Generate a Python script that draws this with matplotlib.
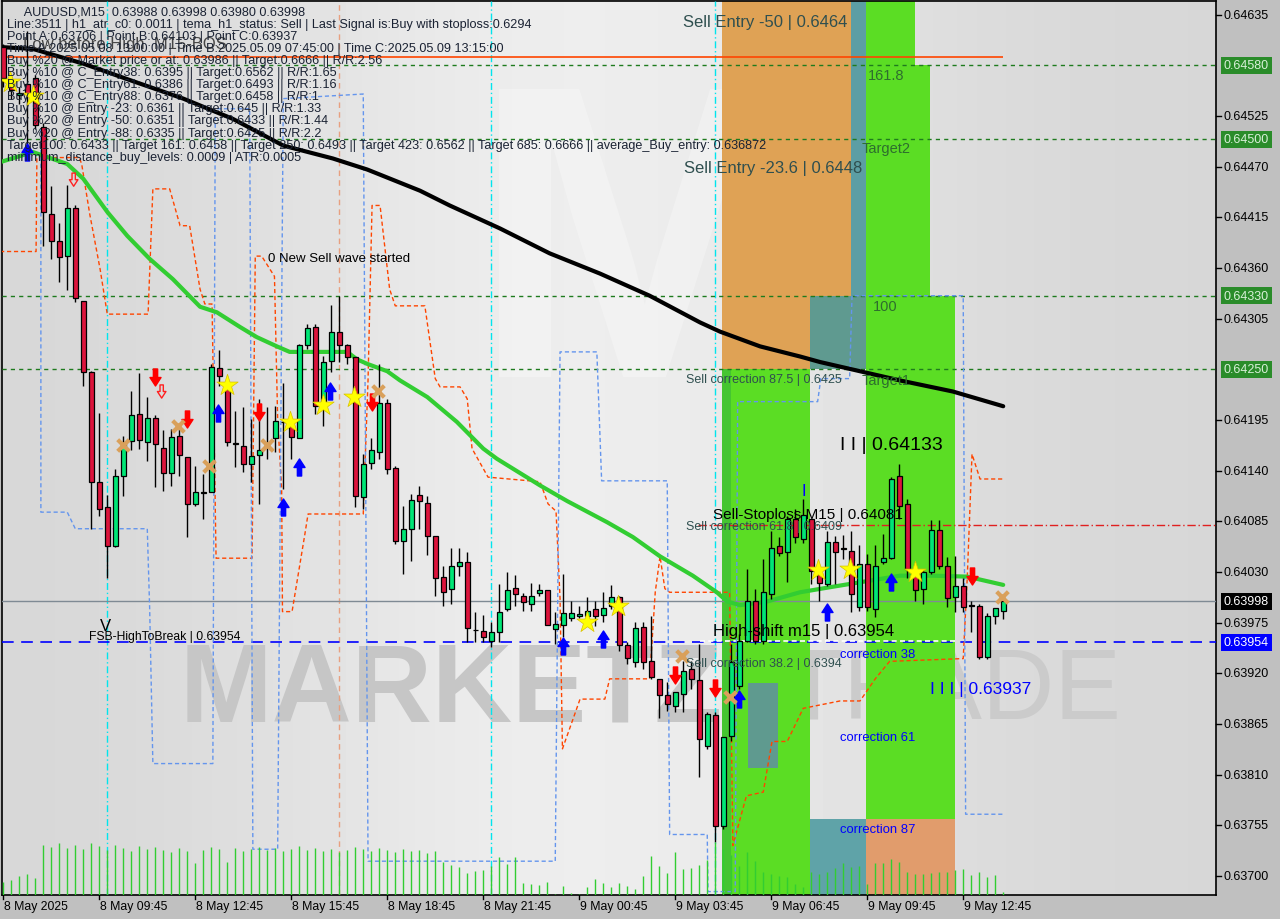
import numpy as np
import matplotlib.pyplot as plt
from matplotlib.patches import Rectangle
from matplotlib.path import Path
from matplotlib.transforms import blended_transform_factory

plt.rcParams['font.family'] = ['Liberation Sans', 'DejaVu Sans']

# ---- AUDUSD M15 candles (bar 0 = 8 May 06:45) ----
opens = [0.64600, 0.64563, 0.64548, 0.64560, 0.64566, 0.64513, 0.64419, 0.64389, 0.64373, 0.64425,
         0.64324, 0.64247, 0.64128, 0.64101, 0.64058, 0.64134, 0.64172, 0.64202, 0.64171, 0.64197,
         0.64165, 0.64138, 0.64178, 0.64155, 0.64104, 0.64116, 0.64117, 0.64252, 0.64229, 0.64169,
         0.64167, 0.64147, 0.64157, 0.64169, 0.64175, 0.64193, 0.64189, 0.64176, 0.64277, 0.64296,
         0.64210, 0.64259, 0.64291, 0.64276, 0.64263, 0.64111, 0.64148, 0.64160, 0.64213, 0.64143,
         0.64064, 0.64077, 0.64114, 0.64105, 0.64069, 0.64025, 0.64012, 0.64036, 0.64041, 0.63967,
         0.63966, 0.63955, 0.63965, 0.63990, 0.64013, 0.64004, 0.63995, 0.64007, 0.64010, 0.63968,
         0.63973, 0.63980, 0.63982, 0.63982, 0.63990, 0.63983, 0.63993, 0.64003, 0.63951, 0.63932,
         0.63970, 0.63933, 0.63914, 0.63896, 0.63885, 0.63898, 0.63925, 0.63913, 0.63841, 0.63875,
         0.63754, 0.63852, 0.63906, 0.63955, 0.63998, 0.63955, 0.64006, 0.64058, 0.64052, 0.64088,
         0.64066, 0.64088, 0.64028, 0.64017, 0.64063, 0.64055, 0.64053, 0.63992, 0.64039, 0.63990,
         0.64041, 0.64045, 0.64134, 0.64104, 0.64028, 0.64012, 0.64030, 0.64076, 0.64037, 0.64003,
         0.64015, 0.63994, 0.63993, 0.63938, 0.63982, 0.63988]
highs = [0.64603, 0.64568, 0.64557, 0.64617, 0.64570, 0.64517, 0.64449, 0.64409, 0.64450, 0.64429,
         0.64324, 0.64248, 0.64203, 0.64114, 0.64142, 0.64178, 0.64226, 0.64246, 0.64220, 0.64200,
         0.64184, 0.64185, 0.64188, 0.64155, 0.64145, 0.64136, 0.64256, 0.64271, 0.64232, 0.64205,
         0.64209, 0.64196, 0.64218, 0.64209, 0.64210, 0.64235, 0.64193, 0.64278, 0.64299, 0.64299,
         0.64265, 0.64320, 0.64330, 0.64278, 0.64264, 0.64158, 0.64175, 0.64256, 0.64218, 0.64145,
         0.64102, 0.64115, 0.64123, 0.64112, 0.64069, 0.64037, 0.64056, 0.64056, 0.64052, 0.63987,
         0.63983, 0.63976, 0.64017, 0.64030, 0.64027, 0.64007, 0.64018, 0.64017, 0.64011, 0.63987,
         0.64028, 0.63999, 0.63993, 0.64003, 0.63998, 0.64008, 0.64016, 0.64004, 0.63954, 0.63976,
         0.63976, 0.63982, 0.63914, 0.63911, 0.63892, 0.63933, 0.63933, 0.63952, 0.63878, 0.63878,
         0.63851, 0.63952, 0.63963, 0.64033, 0.64012, 0.64044, 0.64075, 0.64068, 0.64091, 0.64098,
         0.64109, 0.64088, 0.64031, 0.64075, 0.64069, 0.64070, 0.64074, 0.64059, 0.64050, 0.64059,
         0.64071, 0.64133, 0.64147, 0.64109, 0.64037, 0.64033, 0.64086, 0.64086, 0.64046, 0.64047,
         0.64023, 0.63998, 0.63995, 0.63985, 0.63988, 0.64003]
lows = [0.64557, 0.64544, 0.64538, 0.64495, 0.64511, 0.64384, 0.64370, 0.64345, 0.64336, 0.64323,
        0.64232, 0.64077, 0.64091, 0.64023, 0.64057, 0.64112, 0.64162, 0.64164, 0.64151, 0.64122,
        0.64118, 0.64123, 0.64134, 0.64068, 0.64102, 0.64088, 0.64117, 0.64232, 0.64167, 0.64144,
        0.64139, 0.64128, 0.64104, 0.64153, 0.64160, 0.64120, 0.64153, 0.64175, 0.64272, 0.64202,
        0.64188, 0.64247, 0.64258, 0.64256, 0.64101, 0.64098, 0.64142, 0.64153, 0.64136, 0.64060,
        0.64028, 0.64042, 0.64077, 0.64048, 0.64004, 0.63993, 0.63995, 0.64026, 0.63954, 0.63954,
        0.63954, 0.63949, 0.63954, 0.63988, 0.63993, 0.63988, 0.63988, 0.64004, 0.63973, 0.63952,
        0.63959, 0.63977, 0.63980, 0.63979, 0.63971, 0.63976, 0.63990, 0.63944, 0.63930, 0.63927,
        0.63925, 0.63914, 0.63871, 0.63879, 0.63878, 0.63878, 0.63903, 0.63807, 0.63838, 0.63737,
        0.63751, 0.63847, 0.63903, 0.63954, 0.63952, 0.63952, 0.64001, 0.64047, 0.64019, 0.64061,
        0.64061, 0.64017, 0.63998, 0.64015, 0.64017, 0.64044, 0.63987, 0.63988, 0.63988, 0.63981,
        0.64039, 0.64044, 0.64088, 0.64023, 0.63998, 0.63995, 0.64028, 0.64033, 0.63992, 0.63987,
        0.63987, 0.63965, 0.63936, 0.63936, 0.63974, 0.63979]
closes = [0.64566, 0.64553, 0.64550, 0.64549, 0.64515, 0.64421, 0.64389, 0.64372, 0.64425, 0.64327,
          0.64247, 0.64128, 0.64098, 0.64058, 0.64134, 0.64171, 0.64201, 0.64173, 0.64197, 0.64169,
          0.64138, 0.64177, 0.64157, 0.64104, 0.64117, 0.64117, 0.64253, 0.64243, 0.64171, 0.64170,
          0.64147, 0.64156, 0.64162, 0.64170, 0.64194, 0.64193, 0.64177, 0.64276, 0.64295, 0.64210,
          0.64258, 0.64291, 0.64276, 0.64264, 0.64112, 0.64147, 0.64162, 0.64213, 0.64142, 0.64064,
          0.64077, 0.64108, 0.64107, 0.64069, 0.64023, 0.64008, 0.64037, 0.64041, 0.63969, 0.63967,
          0.63959, 0.63965, 0.63987, 0.64011, 0.64006, 0.63997, 0.64004, 0.64010, 0.63973, 0.63974,
          0.63986, 0.63986, 0.63984, 0.63988, 0.63982, 0.63991, 0.64003, 0.63951, 0.63937, 0.63969,
          0.63932, 0.63916, 0.63896, 0.63887, 0.63900, 0.63923, 0.63914, 0.63849, 0.63876, 0.63754,
          0.63851, 0.63932, 0.63955, 0.63998, 0.63955, 0.64008, 0.64056, 0.64051, 0.64088, 0.64068,
          0.64092, 0.64031, 0.64018, 0.64063, 0.64052, 0.64056, 0.64006, 0.64039, 0.63992, 0.64037,
          0.64045, 0.64131, 0.64102, 0.64033, 0.64010, 0.64030, 0.64076, 0.64037, 0.64002, 0.64015,
          0.63992, 0.63993, 0.63938, 0.63982, 0.63991, 0.63998]
volumes = [13, 15, 19, 21, 17, 50, 48, 52, 47, 50, 46, 52, 49, 45, 50, 47, 44, 49, 46, 48,
           45, 43, 47, 44, 32, 45, 48, 46, 33, 47, 44, 46, 48, 45, 47, 44, 46, 49, 45, 47,
           44, 46, 43, 45, 48, 46, 44, 47, 45, 43, 46, 44, 45, 42, 44, 33, 30, 28, 22, 24,
           25, 29, 38, 31, 38, 12, 11, 10, 13, 1, 9, 2, 1, 8, 16, 12, 8, 12, 9, 6,
           19, 39, 29, 22, 43, 26, 27, 30, 35, 53, 46, 40, 29, 43, 34, 23, 21, 19, 18, 11,
           8, 23, 21, 23, 27, 32, 28, 29, 11, 32, 32, 36, 33, 23, 21, 21, 22, 23, 23, 25,
           26, 20, 23, 18, 20, 3]

# moving averages (bar index, price)
ma_fast_idx = [-0.4, 3.7, 8.0, 10.0, 13.0, 15.5, 18.3, 21.2, 24.6, 26.7, 29.6, 31.7, 34.2, 35.8,
               41.2, 43.0, 44.2, 45.5, 48.0, 49.6, 53.0, 56.7, 60.0, 61.7, 67.1, 70.5, 75.5,
               78.7, 82.1, 86.2, 89.2, 90.5, 92.1, 95.5, 99.6, 103.7, 110.0, 112.1, 116.2,
               120.5, 122.5, 125.0]
ma_fast_val = [0.64475, 0.64486, 0.64473, 0.64457, 0.64421, 0.64395, 0.64370, 0.64348, 0.64318,
               0.64312, 0.64296, 0.64285, 0.64275, 0.64269, 0.64269, 0.64269, 0.64261, 0.64256,
               0.64248, 0.64238, 0.64220, 0.64193, 0.64164, 0.64153, 0.64124, 0.64107, 0.64084,
               0.64068, 0.64047, 0.64026, 0.64008, 0.63998, 0.63994, 0.63998, 0.64008, 0.64014,
               0.64023, 0.64026, 0.64026, 0.64025, 0.64021, 0.64016]
ma_slow_idx = [-0.4, 3.7, 10.0, 16.2, 22.5, 28.7, 35.0, 41.2, 45.5, 52.1, 55.8, 62.1, 68.3, 74.6,
               80.8, 87.1, 89.6, 94.6, 99.6, 102.1, 112.1, 118.7, 125.0]
ma_slow_val = [0.64600, 0.64598, 0.64582, 0.64563, 0.64544, 0.64522, 0.64493, 0.64479, 0.64467,
               0.64444, 0.64428, 0.64403, 0.64376, 0.64354, 0.64330, 0.64301, 0.64291, 0.64275,
               0.64264, 0.64258, 0.64238, 0.64226, 0.64210]

# trailing channel lines (bar index, price)
upper_idx = [-0.4, 4.1, 4.2, 9.5, 9.8, 10.8, 12.1, 13.0, 18.1, 18.7, 20.8, 22.1, 23.3, 24.6, 25.2,
             26.1, 26.6, 31.1, 31.5, 32.3, 33.9, 34.3, 34.8, 34.9, 36.1, 37.7, 38.1, 45.0, 45.6,
             46.1, 47.1, 48.3, 49.0, 52.7, 54.0, 54.6, 57.1, 58.0, 58.6, 60.6, 67.1, 68.1, 69.1,
             69.6, 69.9, 70.8, 72.1, 75.2, 75.8, 80.8, 81.5, 82.1, 82.7, 83.3, 90.8, 91.2, 92.9,
             95.0, 96.1, 98.0, 100.0, 104.6, 107.1, 109.0, 110.8, 120.0, 120.5, 121.1, 122.1, 125.0]
upper_val = [0.64378, 0.64378, 0.64480, 0.64480, 0.64473, 0.64419, 0.64359, 0.64310, 0.64310,
             0.64446, 0.64446, 0.64406, 0.64406, 0.64337, 0.64321, 0.64321, 0.64045, 0.64045,
             0.64373, 0.64373, 0.64351, 0.64196, 0.64120, 0.63987, 0.63987, 0.64071, 0.64093,
             0.64093, 0.64239, 0.64428, 0.64428, 0.64337, 0.64319, 0.64319, 0.64240, 0.64231,
             0.64231, 0.64218, 0.64164, 0.64133, 0.64128, 0.64104, 0.64096, 0.64001, 0.63838,
             0.63860, 0.63892, 0.63892, 0.63914, 0.63914, 0.64008, 0.64047, 0.64012, 0.64008,
             0.64008, 0.63733, 0.63787, 0.63791, 0.63846, 0.63846, 0.63882, 0.63890, 0.63890,
             0.63914, 0.63933, 0.63936, 0.64023, 0.64158, 0.64131, 0.64131]
lower_idx = [4.7, 4.7, 8.0, 9.0, 18.0, 18.3, 18.7, 26.2, 26.5, 30.8, 31.2, 34.3, 35.0, 45.0, 45.6,
             69.0, 69.6, 74.2, 74.8, 83.0, 83.3, 88.0, 88.1, 91.5, 91.8, 101.8, 102.2, 105.8,
             106.1, 120.0, 120.3, 125.0]
lower_val = [0.64511, 0.64095, 0.64095, 0.64077, 0.64077, 0.63990, 0.63822, 0.63822, 0.64533,
             0.64533, 0.63729, 0.63729, 0.64544, 0.64549, 0.63716, 0.63716, 0.64269, 0.64269,
             0.64129, 0.64129, 0.63745, 0.63745, 0.63683, 0.63683, 0.64215, 0.64215, 0.64240,
             0.64240, 0.64330, 0.64330, 0.63767, 0.63767]

# signal markers (bar index, price)
star_idx = [0.8, 3.7, 28.0, 35.8, 40.0, 43.8, 73.0, 76.8, 101.8, 105.8, 114.0]
star_val = [0.64562, 0.64547, 0.64233, 0.64193, 0.64211, 0.64220, 0.63976, 0.63993, 0.64032,
            0.64033, 0.64030]
sell_idx = [19.0, 23.0, 32.0, 46.1, 84.0, 89.0, 121.1]
sell_val = [0.64242, 0.64196, 0.64204, 0.64215, 0.63918, 0.63904, 0.64026]
buy_idx = [3.0, 26.8, 40.8, 37.0, 35.0, 70.0, 75.0, 103.0, 111.0, 92.0]
buy_val = [0.64486, 0.64203, 0.64226, 0.64144, 0.64101, 0.63950, 0.63957, 0.63987, 0.64019,
           0.63892]
cross_idx = [15.0, 21.8, 33.0, 46.8, 25.7, 84.8, 90.8, 124.9]
cross_val = [0.64168, 0.64189, 0.64168, 0.64226, 0.64145, 0.63939, 0.63894, 0.64003]
hollow_idx = [8.8, 19.8]
hollow_val = [0.64456, 0.64226]

# horizontal levels
green_levels = [0.64580, 0.64500, 0.64330, 0.64250]
sell_entry_line = 0.64589
stoploss_line = 0.64081
last_price = 0.63998
fsb_level = 0.63954

# tick labels
price_ticks = [0.64635, 0.64525, 0.64470, 0.64415, 0.64360, 0.64305, 0.64195, 0.64140, 0.64085,
               0.64030, 0.63975, 0.63920, 0.63865, 0.63810, 0.63755, 0.63700]
time_ticks = [0, 12, 24, 36, 48, 60, 72, 84, 96, 108, 120]
time_labels = ['8 May 2025', '8 May 09:45', '8 May 12:45', '8 May 15:45', '8 May 18:45',
               '8 May 21:45', '9 May 00:45', '9 May 03:45', '9 May 06:45', '9 May 09:45',
               '9 May 12:45']

info_lines = [
    '     AUDUSD,M15  0.63988 0.63998 0.63980 0.63998',
    'Line:3511 | h1_atr_c0: 0.0011 | tema_h1_status: Sell | Last Signal is:Buy with stoploss:0.6294',
    'Point A:0.63706 | Point B:0.64103 | Point C:0.63937',
    'Time A:2025.05.08 13:00:00 | Time B:2025.05.09 07:45:00 | Time C:2025.05.09 13:15:00',
    'Buy %20 @ Market price or at: 0.63986 || Target:0.6666 || R/R:2.56',
    'Buy %10 @ C_Entry38: 0.6395 || Target:0.6562 || R/R:1.65',
    'Buy %10 @ C_Entry61: 0.6386 || Target:0.6493 || R/R:1.16',
    'Buy %10 @ C_Entry88: 0.6376 || Target:0.6458 || R/R:1',
    'Buy %10 @ Entry -23: 0.6361 || Target:0.645 || R/R:1.33',
    'Buy %20 @ Entry -50: 0.6351 || Target:0.6433 || R/R:1.44',
    'Buy %20 @ Entry -88: 0.6335 || Target:0.6425 || R/R:2.2',
    'Target100: 0.6433 || Target 161: 0.6458 || Target 250: 0.6493 || Target 423: 0.6562 || '
    'Target 685: 0.6666 || average_Buy_entry: 0.636872',
    'minimum_distance_buy_levels: 0.0009 | ATR:0.0005',
]

YMIN, YMAX = 0.636793, 0.64650
XMIN, XMAX = -0.16, 151.6

fig = plt.figure(figsize=(12.8, 9.2), dpi=100, facecolor='#C0C0C0')
ax = fig.add_axes([2 / 1280, 24 / 920, 1214 / 1280, 894 / 920])
ax.set_xlim(XMIN, XMAX)
ax.set_ylim(YMIN, YMAX)

# background gradient
gx = np.linspace(0, 1, 300)
shade = 0.84 + 0.09 * np.exp(-((gx - 0.48) / 0.28) ** 2)
ax.imshow(np.tile(shade, (10, 1)), cmap='gray', vmin=0, vmax=1, aspect='auto',
          extent=(XMIN, XMAX, YMIN, YMAX), zorder=0)

# watermark
ax.text(22, 0.6390, 'MARKETZI', fontsize=80, fontweight='bold', color='#C6C6C6',
        va='center', ha='left', zorder=1)
ax.text(97.5, 0.6390, 'TRADE', fontsize=72, color='#CBCBCB', va='center', ha='left', zorder=1)
ax.text(80, 0.6436, 'M', fontsize=300, fontweight='bold', color='white', alpha=0.28,
        va='center', ha='center', zorder=1)

# zones
zones = [
    (89.9, 106.0, 0.64330, 0.6466, '#DFA255'),
    (89.9, 100.8, 0.64250, 0.64330, '#DFA255'),
    (106.0, 107.8, 0.64330, 0.6466, '#5C9EA4'),
    (100.8, 107.8, 0.64250, 0.64330, '#5F9A90'),
    (107.8, 113.97, 0.64580, 0.6466, '#5BDD24'),
    (107.8, 115.8, 0.64330, 0.64580, '#5BDD24'),
    (107.8, 118.96, 0.63762, 0.64330, '#5BDD24'),
    (89.9, 100.8, 0.6366, 0.64250, '#5BDD24'),
    (89.9, 91.0, 0.6366, 0.64250, '#45C531'),
    (100.8, 107.8, 0.6366, 0.63762, '#5FA3A8'),
    (107.8, 118.96, 0.6366, 0.63762, '#E19C6C'),
    (93.1, 96.8, 0.63817, 0.63910, '#5F9A8F'),
]
for x0, x1, lo, hi, col in zones:
    ax.add_patch(Rectangle((x0, lo), x1 - x0, hi - lo, facecolor=col, edgecolor='none',
                           zorder=2))

# volumes on a twin scale
vax = ax.twinx()
vax.set_ylim(0, 894)
vax.set_axis_off()
vax.vlines(np.arange(len(volumes)), 0, volumes, color='#32CD32', lw=1)

# vertical markers
for xv, col in [(12.96, '#00E5EE'), (61.0, '#00E5EE'), (89.0, '#00E5EE')]:
    ax.axvline(xv, color=col, lw=1, ls=(0, (5, 2, 1, 2)), zorder=3)
ax.axvline(41.96, color='#E8A080', lw=1, ls=(0, (4, 3)), zorder=3)

# levels
for lv in green_levels:
    ax.axhline(lv, color='#1E7B1E', lw=1, ls=(0, (3, 3)), zorder=3)
ax.hlines(sell_entry_line, -0.4, 125, color='#FF4500', lw=1.2, zorder=3)
ax.hlines(stoploss_line, 86.8, XMAX, color='#E02020', lw=1, ls=(0, (6, 2, 1, 2)), zorder=3)
ax.axhline(last_price, color='#7F8A94', lw=1, zorder=3)
ax.axhline(fsb_level, color='blue', lw=1.2, ls=(0, (7, 4.5)), zorder=3)
ax.hlines(fsb_level + 0.00001, 87.1, 118.96, color='white', lw=1.2, ls=(0, (3, 2)), zorder=3)

# channel lines
ax.plot(upper_idx, upper_val, color='#FF4500', lw=1, ls=(0, (3, 2)), zorder=3)
ax.plot(lower_idx, lower_val, color='#6495ED', lw=1, ls=(0, (3, 2)), zorder=3)

# moving averages
ax.plot(ma_slow_idx, ma_slow_val, color='black', lw=3, zorder=4, solid_capstyle='round')
ax.plot(ma_fast_idx, ma_fast_val, color='#32CD32', lw=3, zorder=4, solid_capstyle='round')

# candles
o = np.array(opens)
h = np.array(highs)
l = np.array(lows)
c = np.array(closes)
idx = np.arange(len(o))
up = c >= o
ax.vlines(idx, l, h, color='black', lw=1, zorder=5)
ax.bar(idx[up], (c - o)[up], bottom=o[up], width=0.62, color='#00E676', edgecolor='black',
       lw=0.9, zorder=6)
ax.bar(idx[~up], (c - o)[~up], bottom=o[~up], width=0.62, color='#DC143C', edgecolor='black',
       lw=0.9, zorder=6)

# signal markers
down_arrow = Path([(-0.25, 1), (0.25, 1), (0.25, 0), (0.65, 0), (0, -1), (-0.65, 0),
                   (-0.25, 0), (-0.25, 1)], closed=True)
up_arrow = Path([(-0.25, -1), (0.25, -1), (0.25, 0), (0.65, 0), (0, 1), (-0.65, 0),
                 (-0.25, 0), (-0.25, -1)], closed=True)
ax.scatter(star_idx, star_val, marker='*', s=260, color='#FFFF00', edgecolor='#D8C000',
           lw=0.5, zorder=7)
ax.scatter(sell_idx, sell_val, marker=down_arrow, s=150, color='#FF0000', zorder=7)
ax.scatter(buy_idx, buy_val, marker=up_arrow, s=150, color='#0000FF', zorder=7)
ax.scatter(cross_idx, cross_val, marker='x', s=70, color='#D9A05B', lw=3, zorder=7)
ax.scatter(hollow_idx, hollow_val, marker=down_arrow, s=90, facecolor='none',
           edgecolor='#FF2020', lw=1, zorder=7)

# annotations
notes = [
    (84.96, 0.64628, 'Sell Entry -50 | 0.6464', 12, '#2F4F4F'),
    (108.1, 0.64570, '161.8', 10.5, '#2E6E2E'),
    (107.3, 0.64490, 'Target2', 10.5, '#2E6E2E'),
    (85.1, 0.64469, 'Sell Entry -23.6 | 0.6448', 12, '#2F4F4F'),
    (108.7, 0.64319, '100', 10.5, '#2E6E2E'),
    (85.3, 0.64240, 'Sell correction 87.5 | 0.6425', 9, '#2F4F4F'),
    (107.3, 0.64239, 'Target1', 10.5, '#2E6E2E'),
    (104.6, 0.64168, 'I I | 0.64133', 14, 'black'),
    (99.8, 0.64119, 'I', 12, 'blue'),
    (88.7, 0.64093, 'Sell-Stoploss M15 | 0.64081', 11, 'black'),
    (85.3, 0.64080, 'Sell correction 61.8 | 0.6409', 9, '#2F4F4F'),
    (88.7, 0.63966, 'High-shift m15 | 0.63954', 12, 'black'),
    (104.6, 0.63941, 'correction 38', 9.4, 'blue'),
    (85.3, 0.63931, 'Sell correction 38.2 | 0.6394', 9, '#2F4F4F'),
    (115.8, 0.63903, 'I I I | 0.63937', 12.5, 'blue'),
    (104.6, 0.63851, 'correction 61', 9.4, 'blue'),
    (104.6, 0.63751, 'correction 87', 9.4, 'blue'),
    (33.1, 0.64371, '0 New Sell wave started', 9.5, 'black'),
    (10.7, 0.63961, 'FSB-HighToBreak | 0.63954', 8.7, 'black'),
    (12.1, 0.63972, 'V', 12, 'black'),
]
for xn, yn, txt, fs, col in notes:
    ax.text(xn, yn, txt, fontsize=fs, color=col, ha='left', va='center', zorder=8)

# info block
for k, line in enumerate(info_lines):
    fig.text(7 / 1280, 1 - (12.5 + 12.1 * k) / 920, line, fontsize=9.1, color='#1A2233',
             ha='left', va='center', zorder=9)
fig.text(23 / 1280, 1 - 45 / 920, 'Low before High  M15-BOS', fontsize=12, color='#2A2A2A',
         ha='left', va='center', alpha=0.85)

# axes styling
for sp in ax.spines.values():
    sp.set_color('black')
    sp.set_linewidth(1.2)
ax.set_xticks([])
ax.set_yticks([])

tr_right = blended_transform_factory(ax.transAxes, ax.transData)
for p in price_ticks:
    ax.plot([1.0, 1.004], [p, p], color='black', lw=1, transform=tr_right, clip_on=False)
    ax.text(1.0065, p, f'{p:.5f}', transform=tr_right, fontsize=9, color='black',
            ha='left', va='center')
boxes = [(0.64580, '#2A8C2A', '#D8F0D8'), (0.64500, '#2A8C2A', '#D8F0D8'),
         (0.64330, '#2A8C2A', '#D8F0D8'), (0.64250, '#2A8C2A', '#D8F0D8'),
         (last_price, 'black', 'white'), (fsb_level, '#0000FF', 'white')]
for p, bg, fg in boxes:
    ax.text(1.0065, p, f'{p:.5f}', transform=tr_right, fontsize=9, color=fg, ha='left',
            va='center', bbox=dict(boxstyle='square,pad=0.2', facecolor=bg, edgecolor='none'))

tr_bottom = blended_transform_factory(ax.transData, ax.transAxes)
for t, lab in zip(time_ticks, time_labels):
    ax.plot([t, t], [0, -0.005], color='black', lw=1, transform=tr_bottom, clip_on=False)
    ax.text(t + 0.05, -0.012, lab, transform=tr_bottom, fontsize=8.8, color='black',
            ha='left', va='center')

fig.savefig('out.png', dpi=100, facecolor=fig.get_facecolor())
